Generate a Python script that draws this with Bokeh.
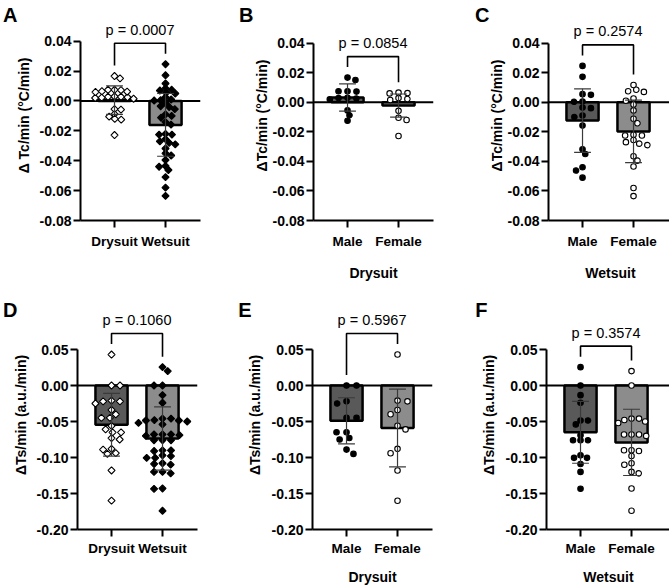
import numpy as np
from bokeh.plotting import figure
from bokeh.layouts import row, column
from bokeh.models import FixedTicker, NumeralTickFormatter, Range1d, Span, LinearAxis
from bokeh.core.properties import value
from bokeh.embed import file_html
from bokeh.resources import INLINE

# ---------------- data ----------------
suit_cats = ["Drysuit", "Wetsuit"]
sex_cats = ["Male", "Female"]

tc_dry_male = [0.0167, 0.0151, 0.0075, 0.0075, 0.0072, 0.0030, 0.0028, 0.0025, 0.0020, -0.0055, -0.0088, -0.0125]
tc_dry_female = [0.0065, 0.0062, 0.0060, 0.0028, 0.0022, 0.0015, -0.0058, -0.0105, -0.0120, -0.0228]
tc_wet_male = [0.0246, 0.0172, 0.0055, 0.0050, 0.0005, 0.0003, -0.0035, -0.0040, -0.0090, -0.0100,
               -0.0158, -0.0318, -0.0350, -0.0440, -0.0462, -0.0510]
tc_wet_female = [0.0117, 0.0085, 0.0075, 0.0070, 0.0025, 0.0010, -0.0015, -0.0055, -0.0112, -0.0142, -0.0220,
                 -0.0225, -0.0225, -0.0255, -0.0270, -0.0280, -0.0290, -0.0365, -0.0395, -0.0435, -0.0580, -0.0635]

ts_dry_male = [0.0, 0.0, -0.022, -0.025, -0.045, -0.045, -0.065, -0.065, -0.073, -0.075, -0.089, -0.095]
ts_dry_female = [0.043, -0.021, -0.022, -0.034, -0.040, -0.056, -0.061, -0.088, -0.094, -0.118, -0.160]
ts_wet_male = [0.0255, 0.0, -0.0134, -0.0240, -0.0486, -0.0486, -0.054, -0.069, -0.076, -0.076, -0.076,
               -0.097, -0.1005, -0.1005, -0.109, -0.120, -0.1435]
ts_wet_female = [0.020, 0.0, -0.046, -0.046, -0.048, -0.050, -0.052, -0.068, -0.068, -0.068, -0.070, -0.090,
                 -0.090, -0.091, -0.098, -0.108, -0.110, -0.120, -0.122, -0.143, -0.174]

# bar heights (mean) and error bars (SD)
tc_suit_mean = [0.0006, -0.0160]
tc_suit_sd = [0.0095, 0.0210]
tc_dry_sex_mean = [0.0032, -0.0022]
tc_dry_sex_sd = [0.0092, 0.0078]
tc_wet_sex_mean = [-0.0124, -0.0197]
tc_wet_sex_sd = [0.0215, 0.0212]
ts_suit_mean = [-0.0545, -0.0736]
ts_suit_sd = [0.0435, 0.0440]
ts_dry_sex_mean = [-0.0490, -0.0590]
ts_dry_sex_sd = [0.0320, 0.0540]
ts_wet_sex_mean = [-0.0650, -0.0790]
ts_wet_sex_sd = [0.0430, 0.0460]

p_labels = ["p = 0.0007", "p = 0.0854", "p = 0.2574", "p = 0.1060", "p = 0.5967", "p = 0.3574"]
panel_letters = ["A", "B", "C", "D", "E", "F"]
tc_ticks = [-0.08, -0.06, -0.04, -0.02, 0.0, 0.02, 0.04]
ts_ticks = [-0.20, -0.15, -0.10, -0.05, 0.0, 0.05]

FONT = "Liberation Sans"
DARK = "#595959"
LIGHT = "#8c8c8c"
X_PPU = 51.0


def swarm(vals, ppu_y, w, h):
    ys = np.asarray(vals, dtype=float) * ppu_y
    order = np.argsort(-ys, kind="stable")
    placed = []
    xs = np.zeros(len(ys))
    side = 1

    def ok(c, y):
        for px_, py_ in placed:
            if ((c - px_) / w) ** 2 + ((y - py_) / h) ** 2 < 1 - 1e-6:
                return False
        return True

    for i in order:
        y = ys[i]
        cands = [0.0]
        for (px_, py_) in placed:
            dy = abs(py_ - y)
            if dy < h:
                dx = w * np.sqrt(1 - (dy / h) ** 2)
                cands += [px_ - dx, px_ + dx]
        cands = sorted(cands, key=lambda c: (round(abs(c), 3), -side * c))
        for c in cands:
            if ok(c, y):
                xs[i] = c
                break
        if xs[i] != 0:
            side = -side
        placed.append((xs[i], y))
    return xs / X_PPU


def make_panel(letter, cats, groups, means, sds, pval, ylab, xlab, ticks, ylo, yhi, ppu,
               left, fw, right, top, fh, bottom, markers, fills, letter_y, letter_std, ylab_std,
               tick_std, xlab_std, sw, sh, msize):
    x0 = 0.333
    x1 = x0 + fw / X_PPU
    yend = ylo + fh / ppu
    p = figure(frame_width=fw, frame_height=fh, min_border_left=left, min_border_right=right,
               min_border_top=top, min_border_bottom=bottom, toolbar_location=None,
               output_backend="svg", x_range=Range1d(x0, x1),
               y_range=Range1d(ylo, yend))
    p.xgrid.visible = False
    p.ygrid.visible = False
    p.outline_line_color = None
    p.background_fill_color = "white"
    p.border_fill_color = "white"

    xs = [1, 2]
    # bars
    p.vbar(x=xs, top=means, bottom=0, width=0.63, fill_color=[DARK, LIGHT],
           line_color="black", line_width=2.5)
    p.add_layout(Span(location=0, dimension="width", line_color="black", line_width=2,
                      level="underlay"))
    # points
    for k, vals in enumerate(groups):
        off = swarm(vals, ppu, sw, sh)
        px = [xs[k] + o for o in off]
        if markers[k] == "diamond":
            p.scatter(px, vals, marker="square", angle=np.pi / 4, size=msize,
                      fill_color=fills[k], line_color="black", line_width=1.1)
        else:
            p.scatter(px, vals, marker="circle", size=msize,
                      fill_color=fills[k], line_color="black", line_width=1.1)
    # error bars
    lo = [m - s for m, s in zip(means, sds)]
    hi = [m + s for m, s in zip(means, sds)]
    p.segment(x0=xs, y0=lo, x1=xs, y1=hi, line_color="#3a3a3a", line_width=1.2)
    cw = 0.165
    p.segment(x0=[x - cw for x in xs], y0=lo, x1=[x + cw for x in xs], y1=lo,
              line_color="#3a3a3a", line_width=1.2)
    p.segment(x0=[x - cw for x in xs], y0=hi, x1=[x + cw for x in xs], y1=hi,
              line_color="#3a3a3a", line_width=1.2)
    # bracket
    gap = 10.5 / ppu
    leg = [max(g) + gap for g in groups]
    btop = max(max(g) for g in groups) + 2 * gap
    p.line([1, 1, 2, 2], [leg[0], btop, btop, leg[1]], line_color="black", line_width=1.6)
    p.text(x=[1.5], y=[btop + 13.5 / ppu], text=[pval], text_align="center",
           text_baseline="middle", text_font=value(FONT), text_font_size="14.5px",
           text_color="black")

    # axes
    ya = p.yaxis[0]
    ya.ticker = FixedTicker(ticks=ticks, minor_ticks=[])
    ya.formatter = NumeralTickFormatter(format="0.00")
    ya.bounds = (ylo, yhi)
    ya.axis_label = ylab
    xa = p.xaxis[0]
    xa.ticker = FixedTicker(ticks=xs, minor_ticks=[])
    xa.major_label_overrides = {1: cats[0], 2: cats[1]}
    if xlab:
        xa.axis_label = xlab
    for ax in (xa, ya):
        ax.axis_line_width = 2
        ax.axis_line_color = "black"
        ax.major_tick_line_width = 2
        ax.major_tick_line_color = "black"
        ax.major_tick_in = 0
        ax.major_tick_out = 7
        ax.minor_tick_line_color = None
        ax.major_label_text_font = FONT
        ax.major_label_text_font_style = "bold"
        ax.major_label_text_font_size = "14px"
        ax.major_label_text_color = "black"
        ax.axis_label_text_font = FONT
        ax.axis_label_text_font_style = "bold"
        ax.axis_label_text_font_size = "14px"
        ax.axis_label_text_color = "black"
    xa.major_label_text_font_size = "13.5px"
    ya.major_label_standoff = 2
    ya.axis_label_standoff = ylab_std
    xa.major_label_standoff = tick_std
    xa.axis_label_standoff = xlab_std

    # panel letter: an outer left axis carrying one label
    yl = round(yend - (letter_y - top) / ppu, 6)
    la = LinearAxis(ticker=FixedTicker(ticks=[yl], minor_ticks=[]),
                    major_label_overrides={yl: letter},
                    axis_line_color=None, major_tick_line_color=None,
                    minor_tick_line_color=None, major_tick_in=0, major_tick_out=0,
                    major_label_standoff=letter_std,
                    major_label_text_font=FONT, major_label_text_font_size="20px",
                    major_label_text_font_style="bold", major_label_text_color="black")
    p.add_layout(la, "left")
    return p


tc_lab_a = "\u0394 Tc/min (\u00b0C/min)"
tc_lab = "\u0394Tc/min (\u00b0C/min)"
ts_lab = "\u0394Ts/min (a.u./min)"

pA = make_panel("A", suit_cats, [tc_dry_male + tc_dry_female, tc_wet_male + tc_wet_female],
                tc_suit_mean, tc_suit_sd, p_labels[0], tc_lab_a, None, tc_ticks, -0.08, 0.04, 1494,
                77, 120, 26, 10, 210, 70, ["diamond", "diamond"], ["white", "black"], 15, -5,
                5, 6, 14, 6.5, 4.5, 5.0)
pB = make_panel("B", sex_cats, [tc_dry_male, tc_dry_female],
                tc_dry_sex_mean, tc_dry_sex_sd, p_labels[1], tc_lab, "Drysuit", tc_ticks, -0.08, 0.04, 1478,
                87, 120, 16, 10, 210, 70, ["circle", "circle"], ["black", "white"], 15, -3,
                0, 6, 13, 9, 5, 5.5)
pC = make_panel("C", sex_cats, [tc_wet_male, tc_wet_female],
                tc_wet_sex_mean, tc_wet_sex_sd, p_labels[2], tc_lab, "Wetsuit", tc_ticks, -0.08, 0.04, 1478,
                99, 124, 0, 10, 210, 70, ["circle", "circle"], ["black", "white"], 15, -4,
                0, 6, 13, 8.5, 5, 5.5)
pD = make_panel("D", suit_cats, [ts_dry_male + ts_dry_female, ts_wet_male + ts_wet_female],
                ts_suit_mean, ts_suit_sd, p_labels[3], ts_lab, None, ts_ticks, -0.20, 0.05, 720,
                76, 120, 27, 10, 229, 56, ["diamond", "diamond"], ["white", "black"], 20, -8,
                5, 4, 10, 8.5, 5, 5.0)
pE = make_panel("E", sex_cats, [ts_dry_male, ts_dry_female],
                ts_dry_sex_mean, ts_dry_sex_sd, p_labels[4], ts_lab, "Drysuit", ts_ticks, -0.20, 0.05, 720,
                88, 120, 15, 10, 229, 56, ["circle", "circle"], ["black", "white"], 20, -8,
                6, 4, 10, 10, 6, 5.5)
pF = make_panel("F", sex_cats, [ts_wet_male, ts_wet_female],
                ts_wet_sex_mean, ts_wet_sex_sd, p_labels[5], ts_lab, "Wetsuit", ts_ticks, -0.20, 0.05, 720,
                99, 124, 0, 10, 229, 56, ["circle", "circle"], ["black", "white"], 20, -10,
                6, 4, 10, 7.5, 5, 5.5)

layout = column(row(pA, pB, pC), row(pD, pE, pF))
open("out.html", "w").write(file_html(layout, INLINE))
